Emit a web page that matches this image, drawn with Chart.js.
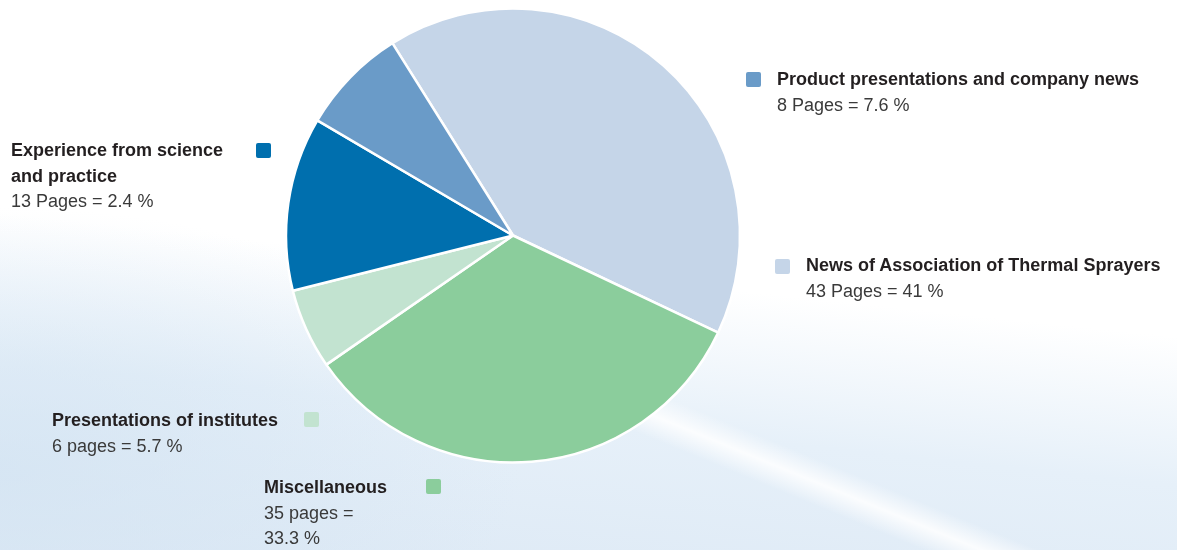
<!DOCTYPE html>
<html>
<head>
<meta charset="utf-8">
<script src="https://cdn.jsdelivr.net/npm/chart.js@4"></script>
<style>
    html, body {
        margin: 0;
        padding: 0;
        width: 1177px;
        height: 550px;
        overflow: hidden;
    }
    body {
        position: relative;
        font-family: "Liberation Sans", Arial, sans-serif;
        background:
            radial-gradient(ellipse 520px 260px at 0% 85%, rgba(210,227,242,0.7) 0%, rgba(210,227,242,0) 100%),
            linear-gradient(186deg, #ffffff 0%, #ffffff 50%, #e6f0f9 72%, #dde9f5 100%);
    }
    .streak {
        position: absolute;
        left: 330px;
        top: 466px;
        width: 1000px;
        height: 44px;
        transform: rotate(22.3deg);
        background: linear-gradient(to bottom, rgba(255,255,255,0), rgba(255,255,255,0.85) 50%, rgba(255,255,255,0));
    }
    #chart {
        position: absolute;
        left: 0;
        top: 0;
    }
    .label {
        position: absolute;
        font-size: 18px;
        line-height: 25.5px;
        color: #3a3a3a;
        white-space: nowrap;
    }
    .label b {
        color: #231f20;
        font-size: 18px;
    }
    .swatch {
        position: absolute;
        width: 15px;
        height: 15px;
        border-radius: 2px;
    }
</style>
</head>
<body>
<div class="streak"></div>
<canvas id="chart" width="1177" height="550"></canvas>

<script>
// Data, in clockwise order starting from the top-left edge of the large slice
const categories = [
    'News of Association of Thermal Sprayers',
    'Miscellaneous',
    'Presentations of institutes',
    ['Experience from science', 'and practice'],
    'Product presentations and company news'
];
const pages = [43, 35, 6, 13, 8];
const pageTexts = [
    ['43 Pages = 41 %'],
    ['35 pages =', '33.3 %'],
    ['6 pages = 5.7 %'],
    ['13 Pages = 2.4 %'],
    ['8 Pages = 7.6 %']
];
const sliceColors = ['#c5d5e8', '#8bcd9c', '#c2e3d0', '#006fae', '#6a9bc8'];

// Label placement (left, top of text block) and swatch placement
const labelPos = [
    [806, 253],
    [264, 475],
    [52, 408],
    [11, 138],
    [777, 67]
];
const swatchPos = [
    [775, 259],
    [426, 479],
    [304, 412],
    [256, 143],
    [746, 72]
];

new Chart(document.getElementById('chart'), {
    type: 'pie',
    data: {
        labels: categories.map(c => Array.isArray(c) ? c.join(' ') : c),
        datasets: [{
            data: pages,
            backgroundColor: sliceColors,
            borderColor: '#ffffff',
            borderWidth: 2.5
        }]
    },
    options: {
        responsive: false,
        animation: false,
        rotation: -32.1,
        radius: 227,
        layout: {
            padding: { left: 0, right: 151, top: 0, bottom: 79 }
        },
        plugins: {
            legend: { display: false },
            tooltip: { enabled: false }
        }
    }
});

// Text labels with colour squares
categories.forEach((cat, i) => {
    const label = document.createElement('div');
    label.className = 'label';
    label.style.left = labelPos[i][0] + 'px';
    label.style.top = labelPos[i][1] + 'px';
    const titleLines = Array.isArray(cat) ? cat : [cat];
    label.innerHTML = titleLines.map(t => `<b>${t}</b>`).join('<br>') +
        '<br>' + pageTexts[i].join('<br>');
    document.body.appendChild(label);

    const swatch = document.createElement('div');
    swatch.className = 'swatch';
    swatch.style.left = swatchPos[i][0] + 'px';
    swatch.style.top = swatchPos[i][1] + 'px';
    swatch.style.background = sliceColors[i];
    document.body.appendChild(swatch);
});
</script>
</body>
</html>
